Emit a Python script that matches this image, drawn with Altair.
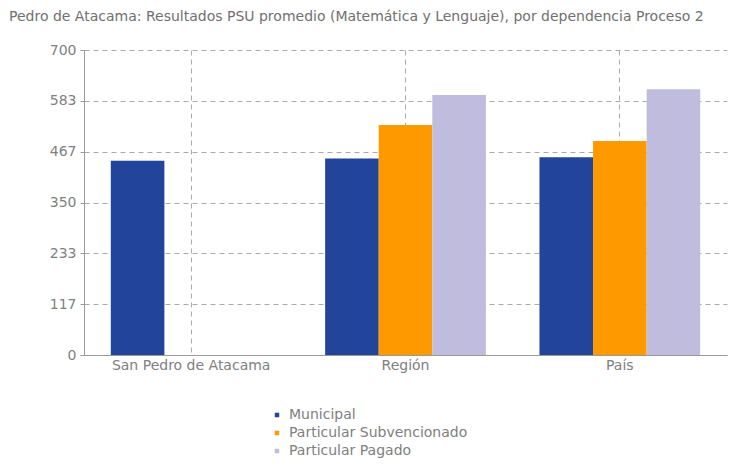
import altair as alt
import pandas as pd

categories = ["San Pedro de Atacama", "Región", "País"]
series = ["Municipal", "Particular Subvencionado", "Particular Pagado"]
colors = ["#22449A", "#FF9900", "#C0BCDD"]
municipal = [446, 451, 454]
subvencionado = [None, 528, 491]
pagado = [None, 597, 610]
y_ticks = [0, 700 / 6, 1400 / 6, 350, 2800 / 6, 3500 / 6, 700]

rows = []
for i, c in enumerate(categories):
    for s, vals in zip(series, [municipal, subvencionado, pagado]):
        if vals[i] is not None:
            rows.append({"cat": c, "serie": s, "valor": vals[i]})
df = pd.DataFrame(rows)

font = "DejaVu Sans"

chart = alt.Chart(df).mark_bar().encode(
    x=alt.X("cat:N", sort=categories,
            scale=alt.Scale(paddingInner=0.25, paddingOuter=0.125),
            axis=alt.Axis(title=None, labelAngle=0, grid=True, gridDash=[5, 4],
                          gridColor="#aaaaaa", bandPosition=0.5, ticks=False,
                          domainColor="#999999", labelColor="#808080",
                          labelFontSize=14, labelFont=font, labelPadding=3)),
    xOffset=alt.XOffset("serie:N", sort=series, scale=alt.Scale(domain=series, paddingInner=0, paddingOuter=0)),
    y=alt.Y("valor:Q", scale=alt.Scale(domain=[0, 700], nice=False),
            axis=alt.Axis(title=None, values=y_ticks, format=".0f", gridDash=[5, 4],
                          gridColor="#aaaaaa", domainColor="#999999", tickColor="#999999",
                          tickSize=4, labelColor="#808080", labelFontSize=14,
                          labelFont=font, labelPadding=4)),
    color=alt.Color("serie:N", sort=series,
                    scale=alt.Scale(domain=series, range=colors),
                    legend=alt.Legend(title=None, orient="none", legendX=186, legendY=358,
                                      symbolType="square", symbolSize=20,
                                      labelFontSize=14, labelFont=font, labelColor="#808080",
                                      labelLimit=400, rowPadding=4, symbolStrokeWidth=0,
                                      labelOffset=5)),
).properties(
    width=643, height=305,
    title=alt.TitleParams(
        "Pedro de Atacama: Resultados PSU promedio (Matemática y Lenguaje), por dependencia Proceso 2",
        anchor="start", frame="group", dx=-75, dy=-15, fontSize=14, font=font,
        fontWeight="normal", color="#707070"),
    autosize=alt.AutoSizeParams(type="none"),
    padding={"left": 76, "top": 42, "right": 4, "bottom": 103},
).configure_view(stroke=None)

chart.save("out.html", embed_options={"renderer": "svg", "actions": False})
